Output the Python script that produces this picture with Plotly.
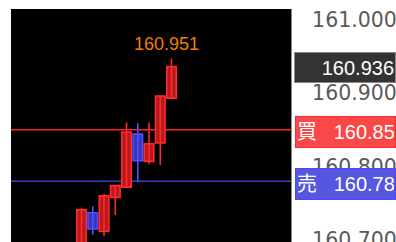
import plotly.graph_objects as go

# ---- data ----
candle_idx = [0, 1, 2, 3, 4, 5, 6, 7, 8]
opens  = [160.690, 160.737, 160.712, 160.758, 160.772, 160.844, 160.807, 160.832, 160.893]
highs  = [160.744, 160.746, 160.763, 160.774, 160.860, 160.859, 160.860, 160.896, 160.947]
lows   = [160.684, 160.707, 160.705, 160.734, 160.772, 160.779, 160.803, 160.802, 160.893]
closes = [160.741, 160.715, 160.760, 160.774, 160.847, 160.808, 160.831, 160.896, 160.936]

ask_price = 160.850   # 買
bid_price = 160.780   # 売
current_price = 160.936
high_label = "160.951"
ask_text = "160.85"
bid_text = "160.78"
current_text = "160.936"

tick_vals = [160.7, 160.8, 160.9, 161.0]
tick_text = ["160.700", "160.800", "160.900", "161.000"]

y_range = [160.6973, 161.0143]
x_range = [-6.27, 18.62]

UP_FILL, UP_LINE = "#b71a1c", "#ff2a2a"
DN_FILL, DN_LINE = "#3636b8", "#4f4fff"

fig = go.Figure()

# wicks
for is_up, col in [(True, UP_LINE), (False, DN_LINE)]:
    wx, wy = [], []
    for i, o, h, l, c in zip(candle_idx, opens, highs, lows, closes):
        if (c >= o) == is_up:
            wx += [i, i, None]
            wy += [l, h, None]
    fig.add_trace(go.Scatter(x=wx, y=wy, mode="lines",
                             line=dict(color=col, width=1.6),
                             hoverinfo="skip", showlegend=False))

# bodies
bases = [min(o, c) for o, c in zip(opens, closes)]
heights = [abs(c - o) for o, c in zip(opens, closes)]
fills = [UP_FILL if c >= o else DN_FILL for o, c in zip(opens, closes)]
edges = [UP_LINE if c >= o else DN_LINE for o, c in zip(opens, closes)]
fig.add_trace(go.Bar(x=candle_idx, y=heights, base=bases, width=0.85,
                     marker=dict(color=fills, line=dict(color=edges, width=1.6)),
                     hoverinfo="skip", showlegend=False))

# ask / bid lines
fig.add_hline(y=ask_price, line=dict(color="#ff2020", width=1.6), layer="below")
fig.add_hline(y=bid_price, line=dict(color="#3c3cc8", width=1.6), layer="below")

# high label
i_max = highs.index(max(highs))
fig.add_annotation(x=candle_idx[i_max], y=highs[i_max], text=high_label,
                   showarrow=False, xanchor="center", yanchor="middle",
                   xshift=-5, yshift=14,
                   font=dict(family="Liberation Sans, Arial, sans-serif",
                             size=18, color="#f57c00"))

label_font = "Liberation Sans, Noto Sans CJK JP, sans-serif"

# current price box
fig.add_annotation(xref="paper", x=(294 - 11) / 280.0, y=current_price, text=current_text,
                   showarrow=False, xanchor="left", yanchor="middle", yshift=-1,
                   width=98, height=27, align="right", valign="middle",
                   bgcolor="#333333", bordercolor="#8a8a8a", borderwidth=1, borderpad=1,
                   font=dict(family=label_font, size=20, color="#ffffff"))

# ask box
fig.add_annotation(xref="paper", x=(295 - 11) / 280.0, y=ask_price,
                   text="買&nbsp;&nbsp;&nbsp;" + ask_text,
                   showarrow=False, xanchor="left", yanchor="middle", yshift=-2,
                   width=97, height=28, align="left", valign="middle",
                   bgcolor="#fa4848", bordercolor="#ff2a2a", borderwidth=1, borderpad=1,
                   font=dict(family=label_font, size=20, color="#ffffff"))

# bid box
fig.add_annotation(xref="paper", x=(295 - 11) / 280.0, y=bid_price,
                   text="売&nbsp;&nbsp;&nbsp;" + bid_text,
                   showarrow=False, xanchor="left", yanchor="middle", yshift=-2.5,
                   width=97, height=28, align="left", valign="middle",
                   bgcolor="#5656de", bordercolor="#4a4aff", borderwidth=1, borderpad=1,
                   font=dict(family=label_font, size=20, color="#ffffff"))

fig.update_layout(
    width=396, height=242,
    margin=dict(l=11, r=105, t=9, b=0),
    paper_bgcolor="#ffffff", plot_bgcolor="#000000",
    barmode="overlay", showlegend=False,
    xaxis=dict(range=x_range, visible=False, fixedrange=True),
    yaxis=dict(range=y_range, side="right", tickvals=tick_vals, ticktext=tick_text,
               showgrid=False, zeroline=False, automargin=False, fixedrange=True,
               showline=True, linecolor="#8a8a8a", linewidth=1,
               ticks="outside", ticklen=16, tickcolor="rgba(0,0,0,0)",
               ticklabeloverflow="allow",
               tickfont=dict(family="DejaVu Sans", size=20.5, color="#5a5a5a")),
)

fig.write_html("out.html",
               config={"displayModeBar": False, "staticPlot": True},
               post_script="document.body.style.margin='0';document.body.style.overflow='hidden';")
